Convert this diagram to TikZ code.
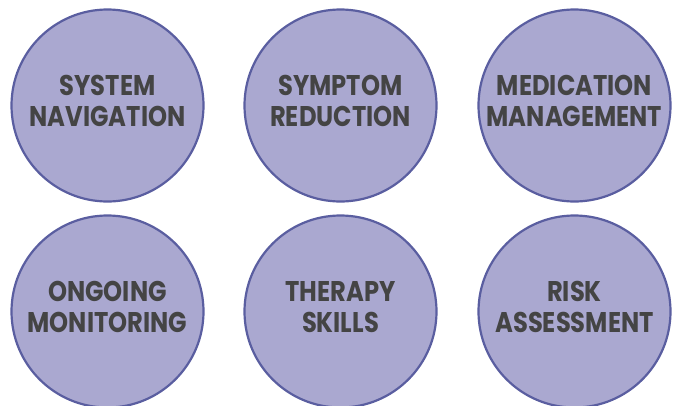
\documentclass[tikz,border=0pt]{standalone}
\usepackage{fontspec}
\newfontfamily\circfont{Poppins}[FakeStretch=0.85]
\definecolor{discfill}{RGB}{170,168,208}
\definecolor{discline}{RGB}{90,94,160}
\definecolor{disctext}{RGB}{68,68,68}
\begin{document}
\begin{tikzpicture}[x=1pt,y=-1pt,
    disc/.style={circle,draw=discline,line width=2.2pt,fill=discfill,
      minimum size=192pt,inner sep=0pt,text=disctext,align=center,
      text depth=10pt,font=\circfont\bfseries\fontsize{28.5}{31}\selectfont}]
  \useasboundingbox (0,0) rectangle (681,405);

  \node[disc] (nav) at (107.5,105.5) {SYSTEM\\NAVIGATION};
  \node[disc] (sym) at (340.5,105.5) {SYMPTOM\\REDUCTION};
  \node[disc] (med) at (574.5,105.5) {MEDICATION\\MANAGEMENT};

  \node[disc] (mon) at (107.5,311.5) {ONGOING\\MONITORING};
  \node[disc] (thr) at (340.5,311.5) {THERAPY\\SKILLS};
  \node[disc] (rsk) at (574.5,311.5) {RISK\\ASSESSMENT};
\end{tikzpicture}
\end{document}
